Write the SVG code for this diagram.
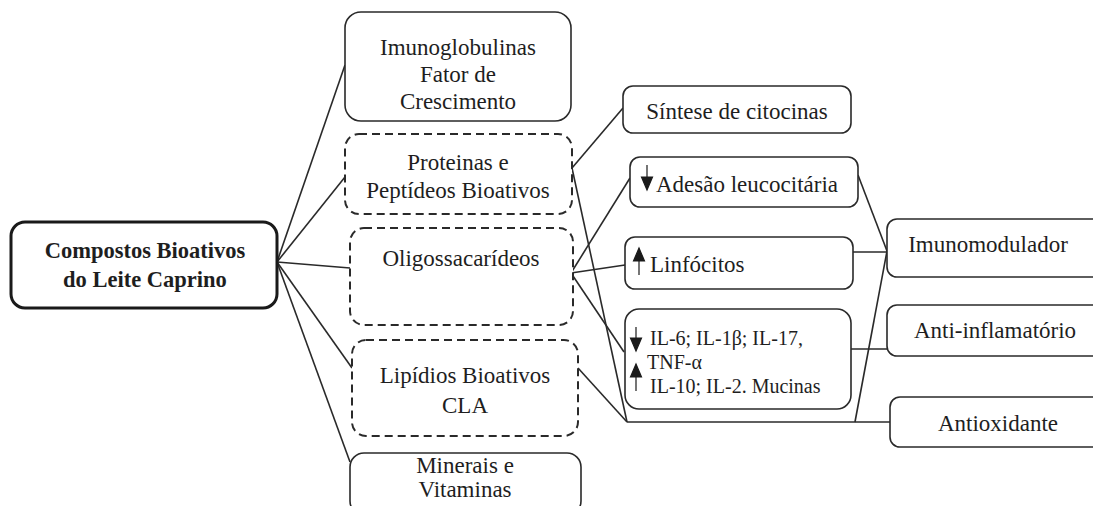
<svg xmlns="http://www.w3.org/2000/svg" width="1093" height="506" viewBox="0 0 1093 506">
<style>
  .box { fill: #ffffff; stroke: #2a2a2a; stroke-width: 1.6; }
  .dash { fill: #ffffff; stroke: #2a2a2a; stroke-width: 2; stroke-dasharray: 8 5; }
  .main { fill: #ffffff; stroke: #1a1a1a; stroke-width: 3; }
  .t { font-family: "Liberation Serif", "Times New Roman", serif; font-size: 23px; fill: #1e1e1e; text-anchor: middle; }
  .ts { font-family: "Liberation Serif", "Times New Roman", serif; font-size: 20px; fill: #1e1e1e; }
  .tl { font-family: "Liberation Serif", "Times New Roman", serif; font-size: 23px; fill: #1e1e1e; }
  .b { font-weight: bold; font-size: 22.5px; }
  .c { fill: none; stroke: #2a2a2a; stroke-width: 1.6; }
  .arr { fill: #1a1a1a; stroke: #1a1a1a; stroke-width: 1.2; }
</style>
<rect width="1093" height="506" fill="#ffffff"/>
<g id="connectors">
  <line class="c" x1="277" y1="262" x2="345" y2="65"/>
  <line class="c" x1="277" y1="262" x2="345" y2="177"/>
  <line class="c" x1="277" y1="262" x2="350" y2="268"/>
  <line class="c" x1="277" y1="262" x2="352" y2="368"/>
  <line class="c" x1="277" y1="262" x2="350" y2="462"/>
  <line class="c" x1="572" y1="168" x2="623" y2="108"/>
  <line class="c" x1="572" y1="168" x2="627" y2="422"/>
  <line class="c" x1="571" y1="273" x2="630" y2="178"/>
  <line class="c" x1="571" y1="273" x2="625" y2="265"/>
  <line class="c" x1="571" y1="273" x2="624" y2="352"/>
  <line class="c" x1="578" y1="368" x2="627" y2="422"/>
  <line class="c" x1="627" y1="422" x2="890" y2="422"/>
  <line class="c" x1="858" y1="175" x2="887" y2="251"/>
  <line class="c" x1="852" y1="252" x2="887" y2="252"/>
  <line class="c" x1="855" y1="422" x2="887" y2="251"/>
  <line class="c" x1="850" y1="349" x2="887" y2="349"/>
</g>
<g id="n-compostos">
  <rect class="main" x="11" y="222" width="266" height="86" rx="14"/>
  <text class="t b" x="145" y="258">Compostos Bioativos</text>
  <text class="t b" x="145" y="287">do Leite Caprino</text>
</g>
<g id="n-imunoglobulinas">
  <rect class="box" x="345" y="12" width="226" height="109" rx="16"/>
  <text class="t" x="458" y="55">Imunoglobulinas</text>
  <text class="t" x="458" y="82">Fator de</text>
  <text class="t" x="458" y="109">Crescimento</text>
</g>
<g id="n-proteinas">
  <rect class="dash" x="345" y="134" width="227" height="80" rx="14"/>
  <text class="t" x="458" y="170">Proteinas e</text>
  <text class="t" x="458" y="198">Peptídeos Bioativos</text>
</g>
<g id="n-oligo">
  <rect class="dash" x="350" y="228" width="223" height="97" rx="14"/>
  <text class="t" x="461" y="266">Oligossacarídeos</text>
</g>
<g id="n-lipidios">
  <rect class="dash" x="352" y="340" width="226" height="96" rx="14"/>
  <text class="t" x="465" y="383">Lipídios Bioativos</text>
  <text class="t" x="465" y="413">CLA</text>
</g>
<g id="n-minerais">
  <rect class="box" x="350" y="453" width="231" height="62" rx="14"/>
  <text class="t" x="465" y="473">Minerais e</text>
  <text class="t" x="465" y="497">Vitaminas</text>
</g>
<g id="n-sintese">
  <rect class="box" x="623" y="86" width="228" height="47" rx="10"/>
  <text class="t" x="737" y="119">Síntese de citocinas</text>
</g>
<g id="n-adesao">
  <rect class="box" x="630" y="157" width="228" height="50" rx="10"/>
  <line class="arr" x1="647" y1="165" x2="647" y2="178"/>
  <polygon class="arr" points="641.5,177 652.5,177 647,190"/>
  <text class="tl" x="656" y="192">Adesão leucocitária</text>
</g>
<g id="n-linfocitos">
  <rect class="box" x="625" y="237" width="228" height="52" rx="10"/>
  <polygon class="arr" points="633.5,261 644.5,261 639,248"/>
  <line class="arr" x1="639" y1="259" x2="639" y2="275"/>
  <text class="tl" x="650" y="272">Linfócitos</text>
</g>
<g id="n-il">
  <rect class="box" x="625" y="309" width="226" height="100" rx="14"/>
  <line class="arr" x1="636" y1="327" x2="636" y2="340"/>
  <polygon class="arr" points="630.5,338 641.5,338 636,351"/>
  <polygon class="arr" points="630.5,377 641.5,377 636,364"/>
  <line class="arr" x1="636" y1="375" x2="636" y2="391"/>
  <text class="ts" x="650" y="345">IL-6; IL-1β; IL-17,</text>
  <text class="ts" x="647" y="369">TNF-α</text>
  <text class="ts" x="650" y="393">IL-10; IL-2. Mucinas</text>
</g>
<g id="n-imunomodulador">
  <rect class="box" x="887" y="219" width="225" height="58" rx="10"/>
  <text class="t" x="988" y="252">Imunomodulador</text>
</g>
<g id="n-antiinflamatorio">
  <rect class="box" x="887" y="305" width="225" height="51" rx="10"/>
  <text class="t" x="995" y="338">Anti-inflamatório</text>
</g>
<g id="n-antioxidante">
  <rect class="box" x="890" y="397" width="222" height="50" rx="10"/>
  <text class="t" x="998" y="431">Antioxidante</text>
</g>
</svg>
